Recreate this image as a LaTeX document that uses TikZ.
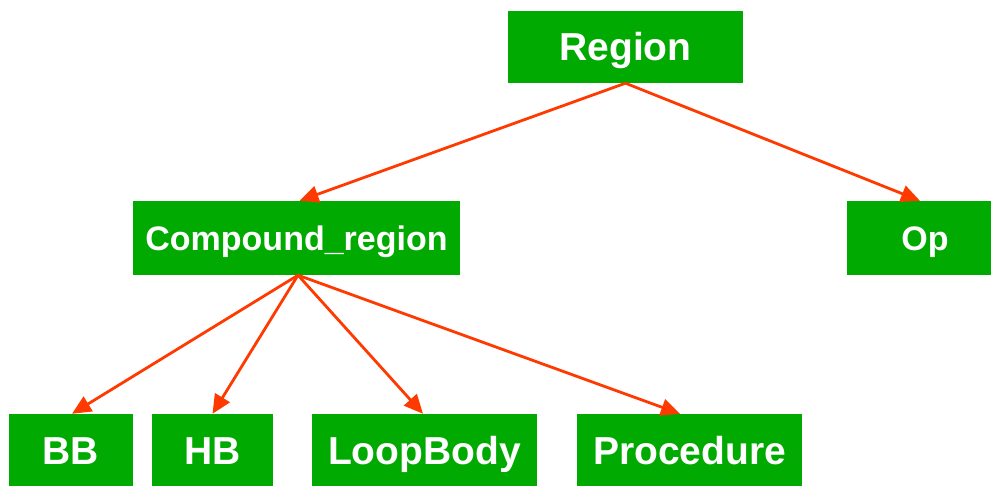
\documentclass[tikz,border=0pt]{standalone}
\usepackage{fontspec}
\setmainfont{Liberation Sans}
\usetikzlibrary{arrows.meta}
\definecolor{boxgreen}{HTML}{00AA00}
\definecolor{linkred}{HTML}{FF3A00}
\tikzset{
  cls/.style={fill=boxgreen, text=white, inner sep=0pt, text depth=0pt},
  big/.style={font=\fontsize{39}{42}\selectfont\bfseries, text height=28pt},
  mid/.style={font=\fontsize{34}{38}\selectfont\bfseries, text height=24.4pt},
  link/.style={draw=linkred, line width=2.8pt,
    -{Triangle[length=19pt,width=17pt]}}
}
\begin{document}
\begin{tikzpicture}[x=1pt,y=1pt]
  \clip (0,0) rectangle (991,486);
  \useasboundingbox (0,0) rectangle (991,486);
  % class boxes
  \node[cls,big,minimum width=235pt,minimum height=72pt] (rg) at (625.5,439) {Region};
  \node[cls,mid,minimum width=327pt,minimum height=74pt] (cr) at (296.5,248) {Compound\_region};
  \node[cls,mid,minimum width=156pt,minimum height=74pt] (op) at (925,248) {Op};
  \node[cls,big,minimum width=124pt,minimum height=73pt] (bb) at (71,35.5) {BB};
  \node[cls,big,minimum width=121pt,minimum height=73pt] (hb) at (212.5,35.5) {HB};
  \node[cls,big,minimum width=225pt,minimum height=73pt] (lb) at (424.5,35.5) {LoopBody};
  \node[cls,big,minimum width=225pt,minimum height=73pt] (pr) at (689.5,35.5) {Procedure};
  % inheritance links
  \draw[link] (rg.south) -- ([xshift=3pt]cr.north);
  \draw[link] (rg.south) -- ([xshift=-5pt]op.north);
  \draw[link] ([xshift=1.5pt]cr.south) -- ([xshift=1pt]bb.north);
  \draw[link] ([xshift=1.5pt]cr.south) -- (hb.north);
  \draw[link] ([xshift=1.5pt]cr.south) -- ([xshift=-1.5pt]lb.north);
  \draw[link] ([xshift=1.5pt]cr.south) -- ([xshift=-9.5pt]pr.north);
\end{tikzpicture}
\end{document}
